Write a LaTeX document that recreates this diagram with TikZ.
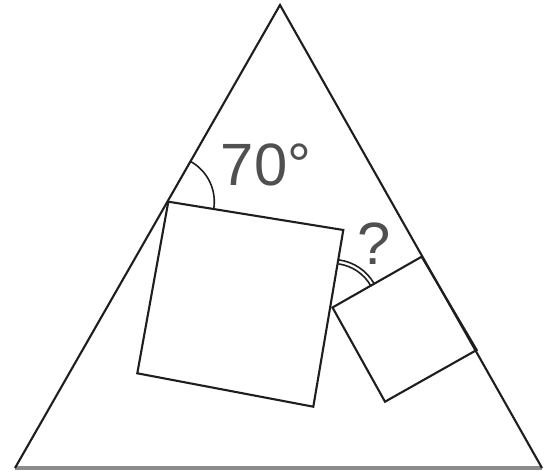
\documentclass[tikz,border=0pt]{standalone}
\usepackage{fontspec}
\setmainfont{Liberation Sans}
\usetikzlibrary{calc}
\definecolor{ink}{HTML}{1E1E1E}
\definecolor{label}{HTML}{505050}
\definecolor{base}{HTML}{8C8C8C}
\tikzset{
  edge/.style={draw=ink,line width=1.2pt,line join=miter},
  floor/.style={draw=base,line width=2.6pt},
  anglearc/.style={draw=ink,line width=0.9pt},
  tag/.style={font=\fontsize{34}{34}\selectfont,text=label,inner sep=0pt}
}
\begin{document}
\begin{tikzpicture}[x=0.02cm,y=-0.02cm]
    \useasboundingbox (0,0) rectangle (544,475);
    \coordinate (apex) at (280,5);
    \coordinate (lft) at (15,468);
    \coordinate (rgt) at (542,468);
    \coordinate (bigA) at (168.3,201.7);
    \coordinate (bigB) at (343.3,230);
    \coordinate (bigC) at (313.3,406.7);
    \coordinate (bigD) at (137.3,373.3);
    \coordinate (smA) at (332.5,307.5);
    \coordinate (smB) at (421.7,256.7);
    \coordinate (smC) at (476.7,350);
    \coordinate (smD) at (385,401.7);
    \draw[floor] (lft) -- (rgt);
    \draw[edge] (lft) -- (apex) -- (rgt);
    \draw[edge] (bigA) -- (bigB) -- (bigC) -- (bigD) -- cycle;
    \draw[edge] (smA) -- (smB) -- (smC) -- (smD) -- cycle;
    \draw[anglearc] ($(bigA)+(-60.4:46)$) arc[start angle=-60.4,end angle=9.2,radius=46];
    \draw[anglearc] ($(smA)+(-82.1:44)$) arc[start angle=-82.1,end angle=-29.7,radius=44];
    \draw[anglearc] ($(smA)+(-82.1:48)$) arc[start angle=-82.1,end angle=-29.7,radius=48];
    \node[tag] (deg) at (266,165) {70°};
    \node[tag] (ask) at (374,244) {?};
  \end{tikzpicture}
\end{document}
